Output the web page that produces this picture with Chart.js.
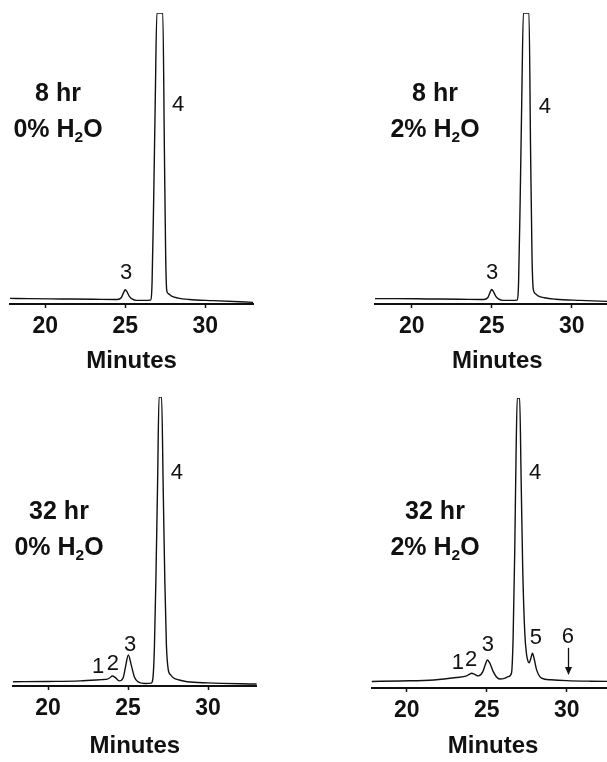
<!DOCTYPE html>
<html>
<head>
<meta charset="utf-8">
<script src="https://cdn.jsdelivr.net/npm/chart.js@4"></script>
<style>
html, body { margin: 0; padding: 0; width: 607px; height: 762px; overflow: hidden; background: #fff; }
.panel { position: absolute; }
.cond { position: absolute; width: 160px; text-align: center; font: bold 25px 'Liberation Sans', Arial, sans-serif; line-height: 36px; color: #111; }
.cond sub { font-size: 0.62em; vertical-align: -0.3em; line-height: 0; }
</style>
</head>
<body>
<div class="panel" style="left:0;top:0"><canvas id="c8h0" width="290" height="380"></canvas></div>
<div class="panel" style="left:360px;top:0"><canvas id="c8h2" width="290" height="380"></canvas></div>
<div class="panel" style="left:0;top:380px"><canvas id="c32h0" width="290" height="382"></canvas></div>
<div class="panel" style="left:360px;top:380px"><canvas id="c32h2" width="290" height="382"></canvas></div>

<div class="cond" style="left:-22px;top:74px">8 hr<br>0% H<sub>2</sub>O</div>
<div class="cond" style="left:355px;top:74px">8 hr<br>2% H<sub>2</sub>O</div>
<div class="cond" style="left:-21px;top:492px">32 hr<br>0% H<sub>2</sub>O</div>
<div class="cond" style="left:355px;top:492px">32 hr<br>2% H<sub>2</sub>O</div>

<script>
// x 軸刻度
const X_TICKS = [20, 25, 30];

// 8 hr, 0% H2O（時間：分鐘，訊號：相對單位，峰 4 超出量程）
const time8h0 = [17.8, 19.0, 21.0, 23.0, 24.5, 24.75, 24.9, 25.0, 25.1, 25.25, 25.45, 25.7, 26.2, 26.58, 26.68, 26.78, 26.88, 26.98, 27.35, 27.45, 27.53, 27.6, 27.7, 27.9, 28.3, 29.0, 30.5, 33.0];
const signal8h0 = [0.4, 0.3, 0.2, 0.1, 0.0, 0.6, 2.4, 3.4, 2.8, 1.2, 0.1, -0.3, -0.3, -0.2, 6, 35, 70, 100, 100, 52, 15, 3.0, 2.0, 1.2, 0.5, 0.0, -0.4, -1.0];

// 8 hr, 2% H2O
const time8h2 = [17.7, 19.0, 21.0, 23.0, 24.5, 24.75, 24.9, 25.0, 25.1, 25.25, 25.45, 25.7, 26.2, 26.58, 26.68, 26.78, 26.88, 26.98, 27.33, 27.43, 27.52, 27.6, 27.7, 27.9, 28.3, 29.0, 30.5, 33.0];
const signal8h2 = [0.3, 0.3, 0.2, 0.1, 0.0, 0.6, 2.5, 3.5, 2.8, 1.2, 0.1, -0.3, -0.3, -0.2, 6, 35, 70, 100, 100, 52, 15, 3.5, 2.2, 1.3, 0.6, 0.1, -0.3, -0.8];

// 32 hr, 0% H2O
const time32h0 = [17.8, 20.0, 22.0, 23.0, 23.5, 23.7, 23.85, 24.02, 24.2, 24.45, 24.7, 24.85, 25.02, 25.2, 25.4, 25.6, 26.1, 26.45, 26.55, 26.65, 26.75, 26.85, 26.94, 27.1, 27.2, 27.3, 27.4, 27.52, 27.65, 27.85, 28.2, 28.7, 30.0, 33.05];
const signal32h0 = [0.1, 0.2, 0.4, 0.7, 0.9, 1.0, 1.4, 2.1, 1.6, 0.4, 1.5, 5.5, 9.5, 6.0, 1.8, 0.2, -0.5, -0.4, 1, 12, 38, 70, 100, 100, 68, 36, 13, 4.2, 2.6, 1.4, 0.7, 0.1, -0.3, -0.7];

// 32 hr, 2% H2O
const time32h2 = [17.8, 19.6, 21.7, 23.1, 23.75, 23.9, 24.06, 24.25, 24.48, 24.75, 24.9, 25.04, 25.2, 25.41, 25.6, 25.83, 26.1, 26.35, 26.55, 26.65, 26.75, 26.83, 26.91, 27.06, 27.15, 27.25, 27.38, 27.5, 27.58, 27.66, 27.76, 27.86, 27.96, 28.12, 28.43, 29.0, 30.0, 31.5, 33.0];
const signal32h2 = [-0.2, 0.0, 0.35, 1.2, 1.8, 2.3, 2.7, 2.3, 1.8, 3.2, 5.5, 7.4, 6.2, 3.3, 1.5, 0.7, 0.9, 1.5, 2.8, 15, 45, 78, 100, 100, 72, 40, 17, 9, 7, 6.4, 8, 9.8, 8, 3.9, 1.0, 0.4, 0.1, -0.1, -0.2];

// 峰編號（時間, 訊號高度, 文字）
const peaks8h0 = [[25.06, 9.25, '3'], [28.3, 67.9, '4']];
const peaks8h2 = [[25.02, 9.25, '3'], [28.33, 67.2, '4']];
const peaks32h0 = [[23.13, 5.3, '1'], [24.06, 6.3, '2'], [25.13, 13.0, '3'], [28.06, 73.3, '4']];
const peaks32h2 = [[23.2, 6.4, '1'], [24.02, 7.4, '2'], [25.08, 12.7, '3'], [28.02, 73.5, '4'], [28.08, 15.2, '5'], [30.08, 15.5, '6']];
// 峰 6 的箭頭（時間, 起點, 終點）
const arrows32h2 = [[30.08, 11.7, 2.1]];

const FONT = "'Liberation Sans', Arial, sans-serif";

function toPoints(ts, vs) {
    return ts.map((t, i) => ({ x: t, y: vs[i] }));
}

// 峰編號與箭頭
const peakLabelPlugin = {
    id: 'peakLabels',
    afterDatasetsDraw(chart, args, opts) {
        const ctx = chart.ctx;
        const xs = chart.scales.x, ys = chart.scales.y;
        ctx.save();
        ctx.fillStyle = '#111';
        ctx.strokeStyle = '#111';
        ctx.font = '22px ' + FONT;
        ctx.textAlign = 'center';
        ctx.textBaseline = 'middle';
        (opts.items || []).forEach(p => {
            ctx.fillText(p[2], xs.getPixelForValue(p[0]), ys.getPixelForValue(p[1]));
        });
        (opts.arrows || []).forEach(a => {
            const px = Math.round(xs.getPixelForValue(a[0])) + 0.5;
            const y1 = ys.getPixelForValue(a[1]);
            const y2 = ys.getPixelForValue(a[2]);
            ctx.lineWidth = 1.3;
            ctx.beginPath();
            ctx.moveTo(px, y1);
            ctx.lineTo(px, y2 - 5);
            ctx.stroke();
            ctx.beginPath();
            ctx.moveTo(px - 3.5, y2 - 8);
            ctx.lineTo(px + 3.5, y2 - 8);
            ctx.lineTo(px, y2);
            ctx.closePath();
            ctx.fill();
        });
        ctx.restore();
    }
};

function makeChart(canvasId, time, signal, panel) {
    return new Chart(document.getElementById(canvasId), {
        type: 'line',
        data: {
            datasets: [{
                data: toPoints(time, signal),
                borderColor: '#111',
                borderWidth: 1.4,
                pointRadius: 0,
                fill: false,
                cubicInterpolationMode: 'monotone'
            }]
        },
        options: {
            responsive: false,
            animation: false,
            devicePixelRatio: 1,
            layout: { padding: panel.padding },
            plugins: {
                legend: { display: false },
                tooltip: { enabled: false },
                peakLabels: { items: panel.labels, arrows: panel.arrows || [] }
            },
            scales: {
                x: {
                    type: 'linear',
                    min: panel.xMin,
                    max: panel.xMax,
                    afterBuildTicks: s => { s.ticks = X_TICKS.map(v => ({ value: v })); },
                    afterFit: s => { s.height = panel.axisHeight; },
                    border: { display: true, color: '#111', width: 2 },
                    grid: { display: true, drawOnChartArea: false, drawTicks: true, tickLength: 4, tickColor: '#111', tickWidth: 1.5 },
                    ticks: { color: '#111', padding: 5, maxRotation: 0, font: { family: FONT, size: 23, weight: 'bold' } },
                    title: {
                        display: true,
                        text: 'Minutes',
                        color: '#111',
                        font: { family: FONT, size: 24, weight: 'bold' },
                        padding: { top: 0, bottom: panel.titlePad }
                    }
                },
                y: { display: false, min: panel.yMin, max: 100 }
            }
        },
        plugins: [peakLabelPlugin]
    });
}

makeChart('c8h0', time8h0, signal8h0, {
    padding: { left: 10, right: 36.8, top: 13, bottom: 0 },
    xMin: 17.8, xMax: 33.0, yMin: -1.57, axisHeight: 76, titlePad: 4.6,
    labels: peaks8h0
});
makeChart('c8h2', time8h2, signal8h2, {
    padding: { left: 14.9, right: 30.3, top: 13, bottom: 0 },
    xMin: 17.7, xMax: 33.0, yMin: -1.57, axisHeight: 76, titlePad: 4.6,
    labels: peaks8h2
});
makeChart('c32h0', time32h0, signal32h0, {
    padding: { left: 12.8, right: 33.2, top: 17, bottom: 0 },
    xMin: 17.8, xMax: 33.05, yMin: -1.4, axisHeight: 76, titlePad: 1.6,
    labels: peaks32h0
});
makeChart('c32h2', time32h2, signal32h2, {
    padding: { left: 11.5, right: 35.3, top: 18, bottom: 0 },
    xMin: 17.8, xMax: 33.0, yMin: -2.5, axisHeight: 74, titlePad: 1.6,
    labels: peaks32h2, arrows: arrows32h2
});
</script>
</body>
</html>
